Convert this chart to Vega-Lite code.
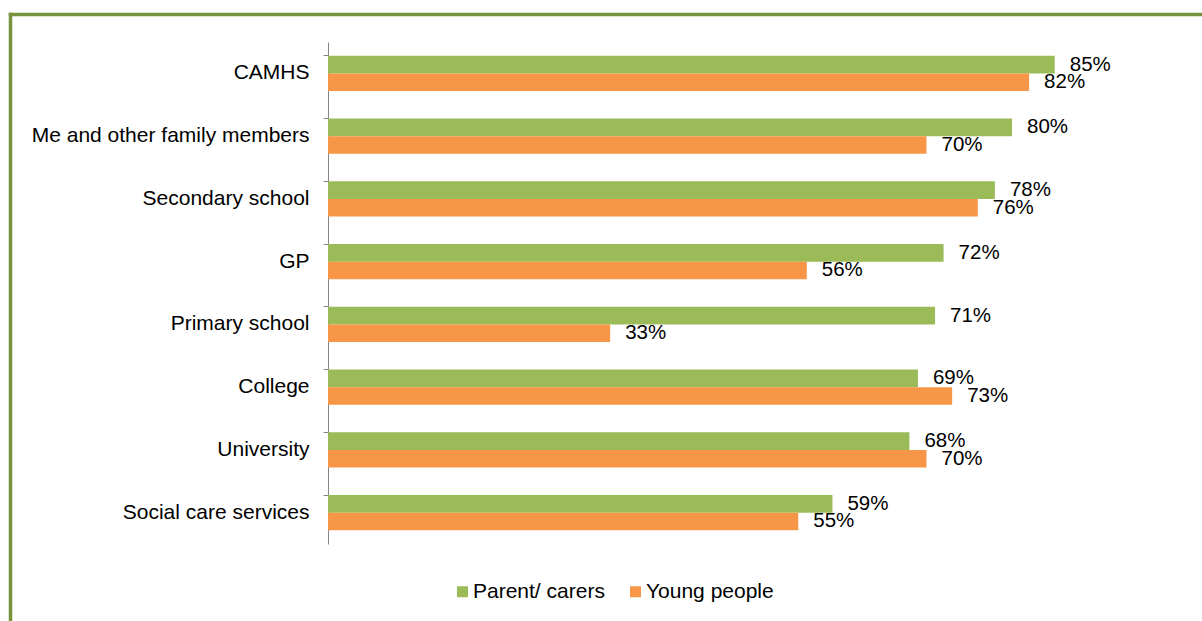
{
  "$schema": "https://vega.github.io/schema/vega-lite/v6.json",
  "width": 1150,
  "height": 607,
  "autosize": {"type": "none"},
  "padding": {"left": 10, "top": 14, "right": 42, "bottom": 0},
  "background": "white",
  "config": {
    "view": {"stroke": null},
    "font": "Liberation Sans",
    "axis": {"labelFont": "Liberation Sans", "labelColor": "#000000"},
    "legend": {"labelFont": "Liberation Sans", "labelColor": "#000000"}
  },
  "data": {
    "values": [
      {"source": "CAMHS", "group": "Parent/ carers", "value": 0.85},
      {"source": "CAMHS", "group": "Young people", "value": 0.82},
      {"source": "Me and other family members", "group": "Parent/ carers", "value": 0.80},
      {"source": "Me and other family members", "group": "Young people", "value": 0.70},
      {"source": "Secondary school", "group": "Parent/ carers", "value": 0.78},
      {"source": "Secondary school", "group": "Young people", "value": 0.76},
      {"source": "GP", "group": "Parent/ carers", "value": 0.72},
      {"source": "GP", "group": "Young people", "value": 0.56},
      {"source": "Primary school", "group": "Parent/ carers", "value": 0.71},
      {"source": "Primary school", "group": "Young people", "value": 0.33},
      {"source": "College", "group": "Parent/ carers", "value": 0.69},
      {"source": "College", "group": "Young people", "value": 0.73},
      {"source": "University", "group": "Parent/ carers", "value": 0.68},
      {"source": "University", "group": "Young people", "value": 0.70},
      {"source": "Social care services", "group": "Parent/ carers", "value": 0.59},
      {"source": "Social care services", "group": "Young people", "value": 0.55}
    ]
  },
  "layer": [
    {
      "encoding": {
        "y": {
          "field": "source",
          "type": "nominal",
          "sort": null,
          "title": null,
          "scale": {"paddingInner": 0.44, "paddingOuter": 0.22, "range": [28, 530]},
          "axis": {
            "offset": -318,
            "bandPosition": 0,
            "tickSize": 5,
            "tickColor": "#868686",
            "domainColor": "#868686",
            "labelFontSize": 21,
            "labelPadding": 14,
            "labelLimit": 400
          }
        },
        "yOffset": {"field": "group", "type": "nominal", "sort": ["Parent/ carers", "Young people"]},
        "x": {
          "field": "value",
          "type": "quantitative",
          "scale": {"domain": [0, 1], "range": [318, 1173]},
          "axis": null
        }
      },
      "layer": [
        {
          "mark": {"type": "bar"},
          "encoding": {
            "color": {
              "field": "group",
              "type": "nominal",
              "sort": ["Parent/ carers", "Young people"],
              "scale": {"domain": ["Parent/ carers", "Young people"], "range": ["#9BBB59", "#F79646"]},
              "legend": {
                "title": null,
                "orient": "none",
                "direction": "horizontal",
                "legendX": 442,
                "legendY": 567,
                "symbolType": "square",
                "symbolSize": 121,
                "symbolStrokeWidth": 0,
                "symbolOpacity": 1,
                "labelFontSize": 21,
                "labelOffset": 0,
                "columnPadding": 20
              }
            }
          }
        },
        {
          "mark": {"type": "text", "align": "left", "baseline": "middle", "dx": 15, "fontSize": 20.5, "color": "#000000"},
          "encoding": {
            "text": {"field": "value", "type": "quantitative", "format": ".0%"}
          }
        }
      ]
    },
    {
      "mark": {"type": "point", "opacity": 0},
      "encoding": {
        "x": {
          "field": "value",
          "type": "quantitative",
          "scale": {"domain": [0, 1], "range": [-1.75, 1200]},
          "axis": {"orient": "top", "domain": true, "domainColor": "#77933C", "domainWidth": 3.5, "ticks": false, "labels": false, "grid": false, "title": null, "offset": 0}
        },
        "y": {
          "field": "source",
          "type": "nominal",
          "scale": {"range": [-1.75, 620]},
          "axis": {"orient": "left", "domain": true, "domainColor": "#77933C", "domainWidth": 3.5, "ticks": false, "labels": false, "grid": false, "title": null, "offset": 0}
        }
      }
    }
  ],
  "resolve": {"scale": {"x": "independent", "y": "independent"}, "axis": {"x": "independent", "y": "independent"}}
}
